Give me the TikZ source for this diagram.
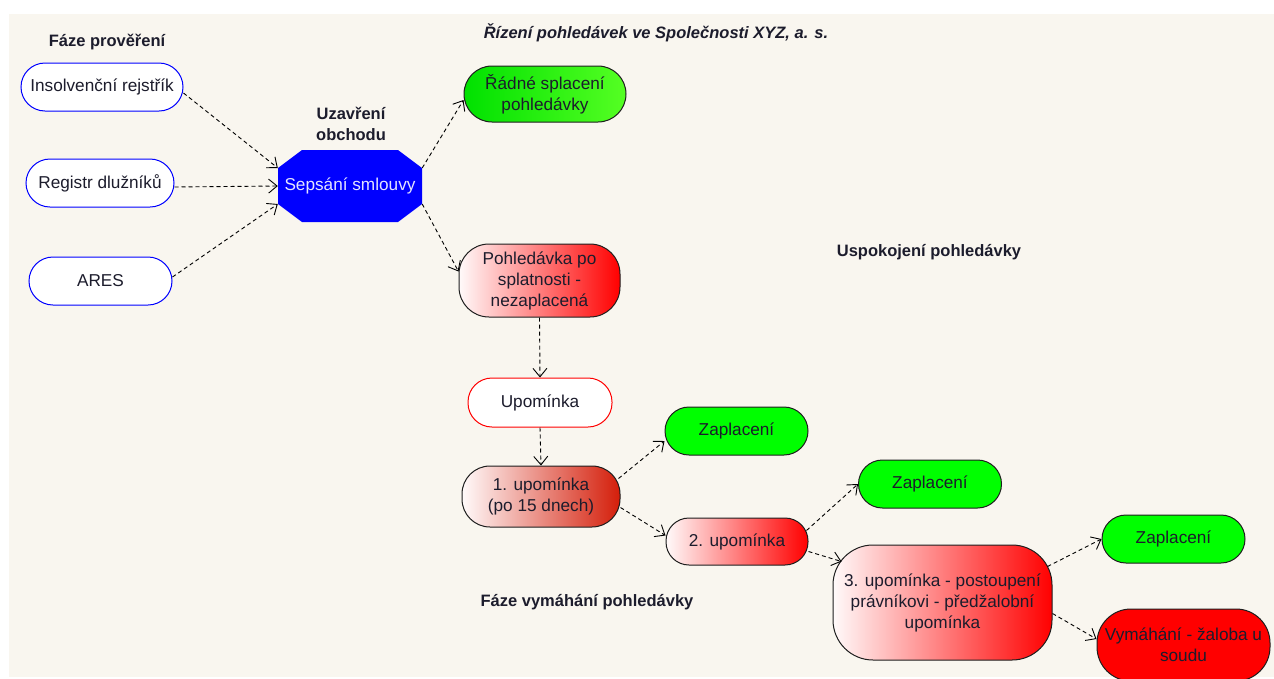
\documentclass[tikz,border=0pt]{standalone}
\usepackage{fontspec}
\setmainfont{Liberation Sans}
\usetikzlibrary{arrows.meta,calc}
\definecolor{bg}{RGB}{249,246,239}
\definecolor{txt}{RGB}{28,28,44}
\definecolor{octblue}{RGB}{0,0,255}
\definecolor{octtxt}{RGB}{228,228,255}
\definecolor{gr}{RGB}{0,255,0}
\definecolor{grl}{RGB}{0,225,0}
\definecolor{grr}{RGB}{85,255,35}
\definecolor{rd}{RGB}{255,0,0}
\definecolor{rdk}{RGB}{212,30,10}
\definecolor{pinkw}{RGB}{255,250,250}
\definecolor{edgec}{RGB}{30,30,30}
\begin{document}
\begin{tikzpicture}[x=1pt,y=-1pt,
  every node/.style={font=\fontsize{17.2}{21}\selectfont, text=txt, align=center, inner sep=0pt},
  bluepill/.style={draw=octblue, fill=white, line width=1pt, minimum height=48pt, rounded corners=24pt},
  greenpill/.style={draw=edgec, fill=gr, line width=1pt, minimum height=48pt, minimum width=143pt, rounded corners=24pt},
  redbox/.style={draw=edgec, line width=1pt, left color=pinkw, right color=#1},
  lbl/.style={font=\bfseries\fontsize{16.5}{21}\selectfont},
  octnode/.style={minimum width=144pt, minimum height=72pt, fill=bg, text=octtxt,
    path picture={\fill[octblue]
      ([xshift=24pt]path picture bounding box.north west) --
      ([xshift=-24pt]path picture bounding box.north east) --
      ([yshift=-18pt]path picture bounding box.north east) --
      ([yshift=18pt]path picture bounding box.south east) --
      ([xshift=-24pt]path picture bounding box.south east) --
      ([xshift=24pt]path picture bounding box.south west) --
      ([yshift=18pt]path picture bounding box.south west) --
      ([yshift=-18pt]path picture bounding box.north west) -- cycle;}},
  conn/.style={draw=black, line width=0.9pt, dash pattern=on 4pt off 3pt,
    -{Straight Barb[length=8.5pt,width=14pt]}}]
\useasboundingbox (0,0) rectangle (1274,678);
\clip (0,0) rectangle (1274,678);
\fill[white] (0,0) rectangle (1274,678);
\fill[bg] (9,14) rectangle (1274,677);

% labels
\node[lbl] (l1) at (107,42) {Fáze prověření};
\node[lbl] (l2) at (351,123.5) {Uzavření\\obchodu};
\node[font=\bfseries\itshape\fontsize{16.5}{21}\selectfont] (title) at (656,33) {Řízení pohledávek ve Společnosti XYZ, a. s.};
\node[lbl] (l3) at (929,252) {Uspokojení pohledávky};
\node[lbl] (l4) at (587,602) {Fáze vymáhání pohledávky};

% nodes
\node[bluepill, minimum width=162pt] (ins) at (102,87) {Insolvenční rejstřík};
\node[bluepill, minimum width=148pt] (reg) at (100,183) {Registr dlužníků};
\node[bluepill, minimum width=143pt] (ares) at (100.5,281) {ARES};
\node[octnode] (oct) at (350,186) {Sepsání smlouvy};
\node[draw=edgec, line width=1pt, left color=grl, right color=grr, minimum width=162pt, minimum height=56pt, rounded corners=28pt] (rad) at (545,94) {Řádné splacení\\pohledávky};
\node[redbox=rd, minimum width=161pt, minimum height=73pt, rounded corners=30pt] (poh) at (539.5,280.5) {Pohledávka po\\splatnosti -\\nezaplacená};
\node[draw=rd, fill=white, line width=1pt, minimum width=144pt, minimum height=49pt, rounded corners=24pt] (upom) at (540,402.5) {Upomínka};
\node[greenpill] (zap1) at (736.5,431) {Zaplacení};
\node[redbox=rdk, minimum width=158pt, minimum height=61pt, rounded corners=28pt] (up1) at (541,496.5) {1. upomínka\\(po 15 dnech)};
\node[redbox=rd, minimum width=142pt, minimum height=47pt, rounded corners=23pt] (up2) at (737,541.5) {2. upomínka};
\node[greenpill] (zap2) at (930,484) {Zaplacení};
\node[redbox=rd, minimum width=219pt, minimum height=115pt, rounded corners=40pt] (up3) at (942.5,602.5) {3. upomínka - postoupení\\právníkovi - předžalobní\\upomínka};
\node[greenpill] (zap3) at (1173.5,539) {Zaplacení};
\node[draw=edgec, fill=rd, line width=1pt, minimum width=173pt, minimum height=72pt, rounded corners=34pt] (vym) at (1183.5,645) {Vymáhání - žaloba u\\soudu};

% connectors
\draw[conn] ([yshift=-6pt]ins.east) -- ([yshift=18pt]oct.west);
\draw[conn] ([yshift=-4pt]reg.east) -- (oct.west);
\draw[conn] ([yshift=4pt]ares.east) -- ([yshift=-18pt]oct.west);
\draw[conn] ([yshift=18pt]oct.east) -- ([yshift=-6pt]rad.west);
\draw[conn] ([yshift=-18pt]oct.east) -- ([yshift=9pt]poh.west);
\draw[conn] (poh.south) -- (upom.north);
\draw[conn] (upom.south) -- (up1.north);
\draw[conn] ([xshift=-2pt,yshift=18pt]up1.east) -- ([yshift=-10pt]zap1.west);
\draw[conn] ([yshift=-11pt]up1.east) -- ([yshift=6pt]up2.west);
\draw[conn] ([xshift=-2pt,yshift=11pt]up2.east) -- (zap2.west);
\draw[conn] ([yshift=-10pt]up2.east) -- ([xshift=9pt,yshift=-17pt]up3.north west);
\draw[conn] ([xshift=-5pt,yshift=-22pt]up3.north east) -- (zap3.west);
\draw[conn] ([yshift=-11pt]up3.east) -- ([yshift=6pt]vym.west);
\end{tikzpicture}
\end{document}
